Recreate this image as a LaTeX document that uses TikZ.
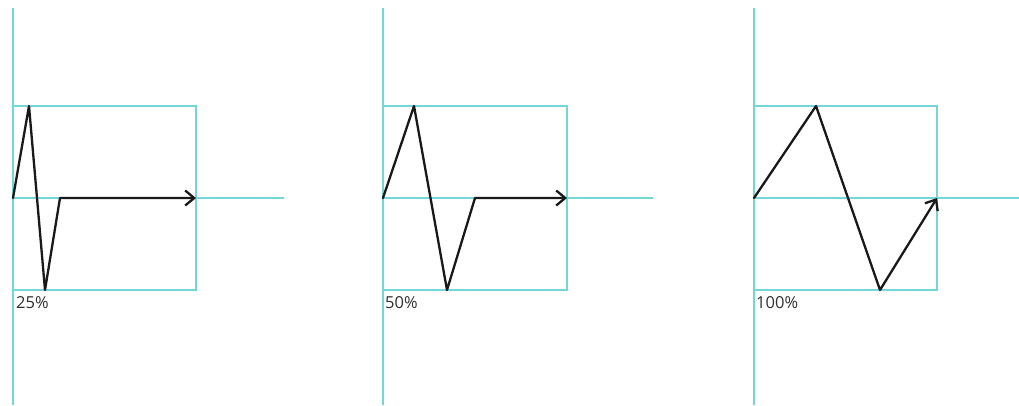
\documentclass[tikz,border=0pt]{standalone}
\usepackage{fontspec}
\setmainfont{Open Sans}
\usetikzlibrary{arrows.meta}
\definecolor{guide}{RGB}{115,215,215}
\definecolor{ink}{RGB}{25,25,25}
\tikzset{
  guideline/.style={draw=guide,line width=2pt},
  wave/.style={draw=ink,line width=2.3pt,line join=round,line cap=round},
  wavearrow/.style={wave,-{Straight Barb[length=9pt,width=15pt,line width=2.3pt]}},
  pct/.style={anchor=west,inner sep=0pt,font=\fontsize{16.5}{16.5}\selectfont,text=ink!90}
}
\begin{document}
\begin{tikzpicture}[x=1pt,y=-1pt]
\useasboundingbox[fill=white] (0,0) rectangle (1019,405);
% ---------- panel 1 (25%) ----------
\draw[guideline] (13,8) -- (13,405);
\draw[guideline] (13,106) rectangle (196,290);
\draw[guideline] (13,198) -- (284,198);
\coordinate (a0) at (13,198);
\coordinate (a1) at (29,106);
\coordinate (a2) at (45,290);
\coordinate (a3) at (60,198);
\coordinate (a4) at (196,198);
\draw[wavearrow] (a0) -- (a1) -- (a2) -- (a3) -- (a4);
\node[pct] (l1) at (16,303) {25\%};
% ---------- panel 2 (50%) ----------
\draw[guideline] (383,8) -- (383,405);
\draw[guideline] (383,106) rectangle (567,290);
\draw[guideline] (383,198) -- (653,198);
\coordinate (b0) at (383,198);
\coordinate (b1) at (414,106);
\coordinate (b2) at (447,290);
\coordinate (b3) at (475,198);
\coordinate (b4) at (567,198);
\draw[wavearrow] (b0) -- (b1) -- (b2) -- (b3) -- (b4);
\node[pct] (l2) at (385,303) {50\%};
% ---------- panel 3 (100%) ----------
\draw[guideline] (754,8) -- (754,405);
\draw[guideline] (754,106) rectangle (937,290);
\draw[guideline] (754,198) -- (1019,198);
\coordinate (c0) at (754,198);
\coordinate (c1) at (816,106);
\coordinate (c2) at (880,290);
\coordinate (c3) at (937,198);
\draw[wavearrow] (c0) -- (c1) -- (c2) -- (c3);
\node[pct] (l3) at (756,303) {100\%};
\end{tikzpicture}
\end{document}
